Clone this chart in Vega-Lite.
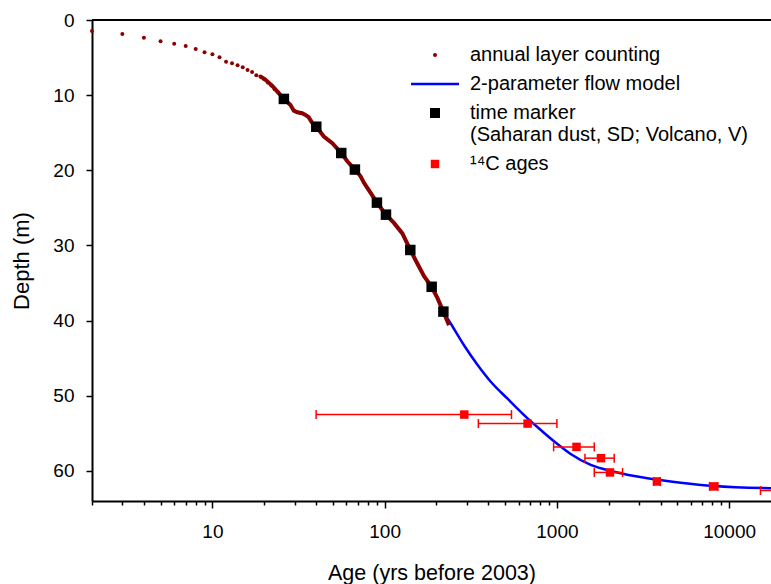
{
  "$schema": "https://vega.github.io/schema/vega-lite/v6.json",
  "autosize": {"type": "none"},
  "padding": {"left": 92, "top": 20, "right": 0, "bottom": 83},
  "width": 679,
  "height": 481,
  "background": "white",
  "config": {"font": "Liberation Sans", "view": {"stroke": null}},
  "datasets": {
    "dots": [
      {"age": 2, "depth": 1.46}, {"age": 3, "depth": 1.86}, {"age": 4, "depth": 2.35},
      {"age": 5, "depth": 2.84}, {"age": 6, "depth": 3.15}, {"age": 7, "depth": 3.46},
      {"age": 8, "depth": 3.86}, {"age": 9, "depth": 4.3}, {"age": 10, "depth": 4.57},
      {"age": 11, "depth": 4.96}, {"age": 12, "depth": 5.54}, {"age": 13, "depth": 5.76},
      {"age": 14, "depth": 6.03}, {"age": 15, "depth": 6.3}, {"age": 16, "depth": 6.65},
      {"age": 17, "depth": 6.91}, {"age": 18, "depth": 7.36}, {"age": 19, "depth": 7.53},
      {"age": 20, "depth": 7.89}, {"age": 21, "depth": 8.3}, {"age": 22, "depth": 8.73},
      {"age": 23, "depth": 9.2}, {"age": 24, "depth": 9.6}
    ],
    "layers": [
      {"age": 19, "depth": 7.53}, {"age": 20.2, "depth": 7.89}, {"age": 22.2, "depth": 8.73},
      {"age": 24, "depth": 9.6}, {"age": 26, "depth": 10.5}, {"age": 28.4, "depth": 11.3},
      {"age": 29.7, "depth": 12.06}, {"age": 31.1, "depth": 12.28}, {"age": 33.2, "depth": 12.41},
      {"age": 34.7, "depth": 12.63}, {"age": 36.2, "depth": 12.94}, {"age": 37.9, "depth": 13.66},
      {"age": 40.1, "depth": 14.2}, {"age": 44.4, "depth": 15.5}, {"age": 49.7, "depth": 16.4},
      {"age": 56, "depth": 17.7}, {"age": 60.7, "depth": 18.8}, {"age": 67.2, "depth": 19.9},
      {"age": 72.5, "depth": 20.8}, {"age": 76, "depth": 21.7}, {"age": 82.9, "depth": 23.0},
      {"age": 90.2, "depth": 24.3}, {"age": 101.8, "depth": 25.9}, {"age": 113.2, "depth": 27.0},
      {"age": 126.7, "depth": 28.4}, {"age": 140.9, "depth": 30.6}, {"age": 154.8, "depth": 32.4},
      {"age": 169.3, "depth": 34.1}, {"age": 187.5, "depth": 35.5}, {"age": 202.6, "depth": 37.0},
      {"age": 219.3, "depth": 38.8}, {"age": 236.5, "depth": 40.6}
    ],
    "model": [
      {"age": 219, "depth": 38.8}, {"age": 241.3, "depth": 40.35}, {"age": 288.2, "depth": 43.25},
      {"age": 344.9, "depth": 45.84}, {"age": 412.1, "depth": 48.1}, {"age": 515.3, "depth": 50.36},
      {"age": 673.4, "depth": 52.97}, {"age": 735.7, "depth": 53.76}, {"age": 961.6, "depth": 56.05},
      {"age": 1202.5, "depth": 57.74}, {"age": 1572, "depth": 59.2}, {"age": 2147, "depth": 60.1},
      {"age": 3357, "depth": 60.97}, {"age": 5243, "depth": 61.56}, {"age": 8190, "depth": 62.0},
      {"age": 17740, "depth": 62.3}
    ],
    "markers": [
      {"age": 26, "depth": 10.5}, {"age": 40.1, "depth": 14.2}, {"age": 56, "depth": 17.7},
      {"age": 67.2, "depth": 19.9}, {"age": 90.2, "depth": 24.3}, {"age": 101.8, "depth": 25.9},
      {"age": 140.9, "depth": 30.6}, {"age": 187.5, "depth": 35.5}, {"age": 219.3, "depth": 38.8}
    ],
    "c14": [
      {"age": 290, "depth": 52.5, "lo": 40, "hi": 545},
      {"age": 676, "depth": 53.7, "lo": 350, "hi": 1000},
      {"age": 1300, "depth": 56.8, "lo": 957, "hi": 1648},
      {"age": 1803, "depth": 58.3, "lo": 1455, "hi": 2152},
      {"age": 2033, "depth": 60.2, "lo": 1648, "hi": 2406},
      {"age": 3808, "depth": 61.4, "lo": 3650, "hi": 3970},
      {"age": 8150, "depth": 62.06, "lo": 7700, "hi": 8600},
      {"age": 20000, "depth": 62.6, "lo": 15200, "hi": 25000}
    ]
  },
  "layer": [
    {
      "data": {"name": "dots"},
      "mark": {"type": "point", "filled": true, "size": 16, "opacity": 1},
      "encoding": {
        "x": {
          "field": "age", "type": "quantitative",
          "scale": {"type": "log", "domain": [2, 17500], "nice": false},
          "axis": {
            "title": "Age (yrs before 2003)",
            "values": [2,3,4,5,6,7,8,9,10,20,30,40,50,60,70,80,90,100,200,300,400,500,600,700,800,900,1000,2000,3000,4000,5000,6000,7000,8000,9000,10000],
            "tickSize": {"condition": {"test": "datum.value == 10 || datum.value == 100 || datum.value == 1000 || datum.value == 10000", "value": 7}, "value": 4},
            "tickWidth": 1.5, "tickColor": "black",
            "domainColor": "black", "domainWidth": 2,
            "labelExpr": "(datum.value == 10 || datum.value == 100 || datum.value == 1000 || datum.value == 10000) ? format(datum.value, 'd') : ''",
            "labelOverlap": false, "labelFlush": false,
            "labelFontSize": 19, "labelColor": "black", "labelPadding": 14,
            "titleFontSize": 21.5, "titleFontWeight": "normal", "titleColor": "black", "titlePadding": 21,
            "grid": false
          }
        },
        "y": {
          "field": "depth", "type": "quantitative",
          "scale": {"domain": [0, 64], "reverse": true, "nice": false, "zero": false},
          "axis": {
            "title": "Depth (m)",
            "values": [0, 10, 20, 30, 40, 50, 60],
            "tickSize": 6, "tickWidth": 1.5, "tickColor": "black",
            "domainColor": "black", "domainWidth": 2,
            "labelFontSize": 19, "labelColor": "black", "labelPadding": 12,
            "titleFontSize": 22, "titleFontWeight": "normal", "titleColor": "black", "titlePadding": 19,
            "grid": false
          }
        },
        "color": {
          "datum": "annual layer counting", "type": "nominal",
          "scale": {
            "domain": ["annual layer counting", "2-parameter flow model", "time marker", "¹⁴C ages"],
            "range": ["#8B0000", "#0000FF", "#000000", "#FF0000"]
          },
          "legend": {
            "title": null, "orient": "none", "legendX": 333, "legendY": 25,
            "padding": 0,
            "labelFontSize": 20, "labelColor": "black", "labelOffset": 25, "labelLimit": 500,
            "labelExpr": "datum.value === 'time marker' ? ['time marker', '(Saharan dust, SD; Volcano, V)'] : datum.label",
            "symbolType": {"expr": "datum.value === '2-parameter flow model' ? 'stroke' : datum.value === 'annual layer counting' ? 'circle' : 'square'"},
            "symbolSize": {"expr": "datum.value === '2-parameter flow model' ? 2304 : datum.value === 'annual layer counting' ? 16 : datum.value === 'time marker' ? 100 : 72"},
            "symbolStrokeColor": {"expr": "datum.value === '2-parameter flow model' ? '#0000FF' : 'transparent'"},
            "symbolStrokeWidth": 2.5,
            "symbolOpacity": 1,
            "rowPadding": 9
          }
        }
      }
    },
    {
      "data": {"name": "model"},
      "mark": {"type": "line", "color": "#0000FF", "strokeWidth": 2.5, "interpolate": "monotone", "clip": true},
      "encoding": {
        "x": {"field": "age", "type": "quantitative", "title": "Age (yrs before 2003)"},
        "y": {"field": "depth", "type": "quantitative", "title": "Depth (m)"}
      }
    },
    {
      "data": {"name": "layers"},
      "mark": {"type": "line", "color": "#8B0000", "strokeWidth": 4},
      "encoding": {
        "x": {"field": "age", "type": "quantitative", "title": "Age (yrs before 2003)"},
        "y": {"field": "depth", "type": "quantitative", "title": "Depth (m)"}
      }
    },
    {
      "data": {"name": "c14"},
      "mark": {"type": "rule", "color": "#FF0000", "strokeWidth": 1.5, "clip": true},
      "encoding": {
        "x": {"field": "lo", "type": "quantitative", "title": "Age (yrs before 2003)"},
        "x2": {"field": "hi"},
        "y": {"field": "depth", "type": "quantitative", "title": "Depth (m)"}
      }
    },
    {
      "data": {"name": "c14"},
      "mark": {"type": "tick", "color": "#FF0000", "orient": "vertical", "size": 9, "thickness": 1.5, "opacity": 1, "clip": true},
      "encoding": {
        "x": {"field": "lo", "type": "quantitative", "title": "Age (yrs before 2003)"},
        "y": {"field": "depth", "type": "quantitative", "title": "Depth (m)"}
      }
    },
    {
      "data": {"name": "c14"},
      "mark": {"type": "tick", "color": "#FF0000", "orient": "vertical", "size": 9, "thickness": 1.5, "opacity": 1, "clip": true},
      "encoding": {
        "x": {"field": "hi", "type": "quantitative", "title": "Age (yrs before 2003)"},
        "y": {"field": "depth", "type": "quantitative", "title": "Depth (m)"}
      }
    },
    {
      "data": {"name": "c14"},
      "mark": {"type": "point", "shape": "square", "filled": true, "color": "#FF0000", "size": 72, "opacity": 1, "clip": true},
      "encoding": {
        "x": {"field": "age", "type": "quantitative", "title": "Age (yrs before 2003)"},
        "y": {"field": "depth", "type": "quantitative", "title": "Depth (m)"}
      }
    },
    {
      "data": {"name": "markers"},
      "mark": {"type": "point", "shape": "square", "filled": true, "color": "#000000", "size": 110, "opacity": 1},
      "encoding": {
        "x": {"field": "age", "type": "quantitative", "title": "Age (yrs before 2003)"},
        "y": {"field": "depth", "type": "quantitative", "title": "Depth (m)"}
      }
    },
    {
      "data": {"values": [{}]},
      "mark": {"type": "rule", "color": "black", "strokeWidth": 2},
      "encoding": {"y": {"datum": 0, "type": "quantitative"}}
    }
  ]
}
